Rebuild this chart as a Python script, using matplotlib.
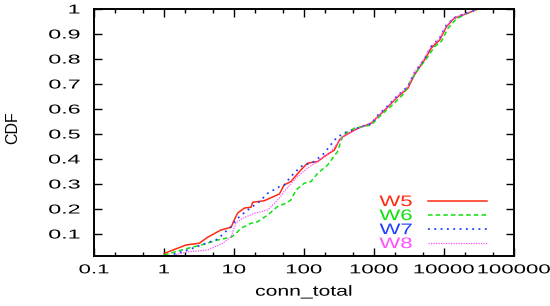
import numpy as np
import matplotlib.pyplot as plt
from matplotlib.ticker import LogLocator, FixedLocator, FixedFormatter
from matplotlib.patheffects import AbstractPathEffect
from matplotlib.transforms import Affine2D

# CDF curves (x = conn_total, y = CDF)
w5_x = [1, 2.06, 3.2, 4.2, 6.5, 9.1, 10.1, 11.3, 14.1, 17.5, 18.5, 27, 44.5, 52, 65, 90, 112,
        157, 195, 272, 320, 360, 587, 911, 1130, 1475, 2190, 3050, 3770, 5260, 6560, 8690,
        10800, 14000, 21800, 30600]
w5_y = [0.022, 0.056, 0.063, 0.087, 0.116, 0.127, 0.157, 0.184, 0.204, 0.207, 0.227, 0.233,
        0.26, 0.296, 0.31, 0.356, 0.383, 0.39, 0.41, 0.436, 0.476, 0.489, 0.523, 0.543,
        0.569, 0.60, 0.649, 0.683, 0.736, 0.796, 0.843, 0.876, 0.929, 0.963, 0.983, 1.0]

w6_x = [1, 2.2, 3.4, 5.8, 9.1, 10.7, 12.6, 17.5, 21.8, 30.3, 42, 55, 65, 77, 101, 126, 157,
        218, 302, 360, 525, 911, 1265, 1950, 2700, 3390, 4220, 5900, 7370, 9150, 11400,
        15000, 22000, 30600]
w6_y = [0.016, 0.043, 0.056, 0.076, 0.087, 0.103, 0.123, 0.143, 0.149, 0.176, 0.21, 0.223,
        0.236, 0.276, 0.303, 0.31, 0.343, 0.376, 0.43, 0.496, 0.523, 0.536, 0.576, 0.623,
        0.663, 0.716, 0.756, 0.81, 0.85, 0.87, 0.923, 0.96, 0.985, 1.0]

w7_x = [1.13, 2.2, 3.4, 5.8, 9.1, 11.3, 15.7, 23, 30.3, 44.5, 52, 65, 90, 140, 195, 272, 360,
        500, 650, 911, 1130, 1475, 2190, 3050, 3770, 5260, 6560, 8690, 10800, 14000, 21800,
        30600]
w7_y = [0.012, 0.036, 0.056, 0.079, 0.13, 0.163, 0.196, 0.229, 0.263, 0.289, 0.296, 0.33,
        0.37, 0.39, 0.423, 0.476, 0.503, 0.516, 0.529, 0.54, 0.575, 0.605, 0.655, 0.69,
        0.745, 0.80, 0.85, 0.885, 0.935, 0.965, 0.985, 1.0]

w8_x = [1.26, 2.2, 4.2, 6.9, 9.1, 10.7, 13.3, 19.5, 30.3, 44.5, 52, 81, 112, 157, 242, 302,
        360, 587, 911, 1130, 1475, 2190, 3050, 3770, 5260, 6560, 8690, 10800, 14000, 21800,
        30600]
w8_y = [0.012, 0.029, 0.036, 0.063, 0.089, 0.145, 0.163, 0.183, 0.196, 0.243, 0.27, 0.33,
        0.363, 0.39, 0.429, 0.463, 0.49, 0.52, 0.545, 0.57, 0.602, 0.652, 0.69, 0.745,
        0.805, 0.85, 0.882, 0.932, 0.965, 0.985, 1.0]

xticks = [0.1, 1, 10, 100, 1000, 10000, 100000]
xtick_labels = ["0.1", "1", "10", "100", "1000", "10000", "100000"]
yticks = [0.1, 0.2, 0.3, 0.4, 0.5, 0.6, 0.7, 0.8, 0.9, 1]
ytick_labels = ["0.1", "0.2", "0.3", "0.4", "0.5", "0.6", "0.7", "0.8", "0.9", "1"]


class Stretch(AbstractPathEffect):
    # widen text horizontally (the reference uses a wide, gnuplot-style font)
    def __init__(self, sx, anchor="center"):
        super().__init__()
        self.sx = sx
        self.anchor = anchor

    def draw_path(self, renderer, gc, tpath, affine, rgbFace=None):
        bb = tpath.get_extents(affine)
        if self.anchor == "right":
            cx = bb.x1
        elif self.anchor == "left":
            cx = bb.x0
        else:
            cx = (bb.x0 + bb.x1) / 2
        t = affine + Affine2D().translate(-cx, 0).scale(self.sx, 1).translate(cx, 0)
        renderer.draw_path(gc, tpath, t, rgbFace)


plt.rcParams['font.family'] = ['Liberation Sans', 'DejaVu Sans']

fig = plt.figure(figsize=(5.5, 3.06), dpi=100)
ax = fig.add_axes([94 / 550, 1 - 256 / 306, 420 / 550, 247 / 306])

ax.plot(w5_x, w5_y, color="#ff2a10", lw=1.1, ls="-", label="W5")
ax.plot(w6_x, w6_y, color="#10e010", lw=1.1, ls=(0, (3, 2)), label="W6")
ax.plot(w7_x, w7_y, color="#2040ff", lw=1.3, ls=(0, (1, 2.5)), label="W7")
ax.plot(w8_x, w8_y, color="#ff50ff", lw=0.9, ls=(0, (1, 1)), label="W8")

ax.set_xscale("log")
ax.set_xlim(0.1, 100000)
ax.set_ylim(0.012, 1)
ax.xaxis.set_major_locator(FixedLocator(xticks))
ax.xaxis.set_major_formatter(FixedFormatter(xtick_labels))
ax.xaxis.set_minor_locator(LogLocator(base=10, subs=(2, 5)))
ax.yaxis.set_major_locator(FixedLocator(yticks))
ax.yaxis.set_major_formatter(FixedFormatter(ytick_labels))

ax.tick_params(which="both", direction="in", top=True, right=True, labelsize=9.3, width=1)
ax.tick_params(which="major", length=6)
ax.tick_params(axis="x", which="major", pad=6)
ax.tick_params(axis="y", which="major", pad=10)
ax.tick_params(which="minor", length=3)
for s in ax.spines.values():
    s.set_linewidth(1.4)

for lbl in ax.get_xticklabels():
    lbl.set_path_effects([Stretch(1.72, "center")])
for lbl in ax.get_yticklabels():
    lbl.set_path_effects([Stretch(1.8, "right")])

xl = ax.set_xlabel("conn_total", fontsize=10.5, labelpad=6)
xl.set_path_effects([Stretch(1.45, "center")])
ax.set_ylabel("CDF", fontsize=11.5)
ax.yaxis.set_label_coords(-74 / 420, 0.52)

leg = ax.legend(loc="lower right", frameon=False, markerfirst=False, labelcolor="linecolor",
                fontsize=11, handlelength=3.9, handletextpad=1.0, labelspacing=0.0,
                borderaxespad=0, borderpad=0, bbox_to_anchor=(0.936, 0.02))
for t in leg.get_texts():
    t.set_path_effects([Stretch(1.45, "right")])

fig.savefig("out.png", dpi=100)
